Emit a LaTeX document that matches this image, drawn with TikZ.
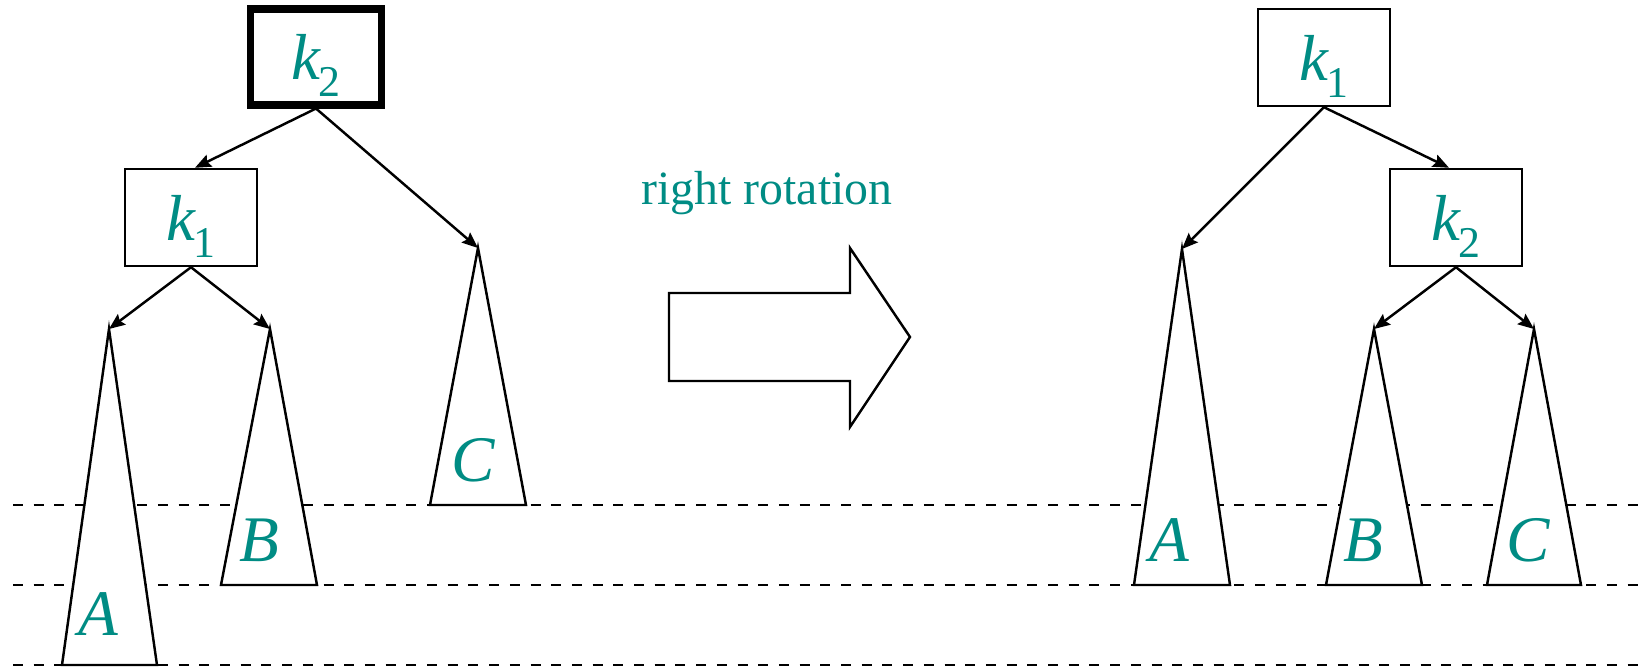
\documentclass[tikz,border=0pt]{standalone}
\usepackage{fontspec}
\setmainfont{Liberation Serif}
\usetikzlibrary{arrows.meta}
\definecolor{keyteal}{RGB}{0,140,132}
\newcommand{\kkey}[1]{\textit{k}\kern-0.2mm\raisebox{-1.7mm}[0pt][0pt]{\fontsize{12.5}{13}\selectfont #1}}

\begin{document}
\begin{tikzpicture}[x=1mm,y=1mm,>={Stealth[length=1.6mm,width=1.3mm,inset=0.25mm]},
  key/.style={draw,line width=0.7pt,minimum width=13.2mm,minimum height=9.7mm,inner sep=0pt,font=\fontsize{18.5}{20}\selectfont,text=keyteal},
  rootkey/.style={key,line width=2pt,minimum width=13.1mm,minimum height=9.6mm},
  subtree/.style={draw,line width=0.7pt,fill=white,line join=miter},
  lbl/.style={font=\fontsize{18.5}{20}\selectfont\itshape,text=keyteal,inner sep=0pt},
  hline/.style={line width=0.7pt,dash pattern=on 1.0mm off 1.07mm},
  link/.style={->,line width=0.7pt}]
\useasboundingbox (0,0) rectangle (163.9,-66.7);
% height levels
\draw[hline] (1.3,-50.5) -- (163.9,-50.5);
\draw[hline] (1.3,-58.5) -- (163.9,-58.5);
\draw[hline] (1.3,-66.5) -- (163.9,-66.5);
% (left) before the rotation
\node[rootkey] (k2L) at (31.6,-5.7) {\kkey{2}};
\node[key] (k1L) at (19.1,-21.75) {\kkey{1}};
\coordinate (aL) at (10.9,-32.9);
\coordinate (bL) at (27.0,-32.9);
\coordinate (cL) at (47.8,-24.8);
\draw[subtree] (aL) -- (15.7,-66.5) -- (6.2,-66.5) -- cycle;
\draw[subtree] (bL) -- (31.7,-58.5) -- (22.1,-58.5) -- cycle;
\draw[subtree] (cL) -- (52.6,-50.5) -- (43.0,-50.5) -- cycle;
\node[lbl] (labAL) at (9.8,-61.4) {A};
\node[lbl] (labBL) at (25.9,-54.0) {B};
\node[lbl] (labCL) at (47.3,-46.0) {C};
\draw[link] (k2L.south) -- ([xshift=0.4mm]k1L.north);
\draw[link] (k2L.south) -- (cL);
\draw[link] (k1L.south) -- (aL);
\draw[link] (k1L.south) -- (bL);
% the big arrow
\node[font=\fontsize{13.6}{15}\selectfont,text=keyteal] (rot) at (76.7,-19.3) {right rotation};
\draw[line width=0.7pt,line join=miter] (66.9,-29.3) -- (85.0,-29.3) -- (85.0,-24.8) -- (91.0,-33.7)
  -- (85.0,-42.7) -- (85.0,-38.1) -- (66.9,-38.1) -- cycle;
% (right) after the rotation
\node[key] (k1R) at (132.4,-5.75) {\kkey{1}};
\node[key] (k2R) at (145.6,-21.75) {\kkey{2}};
\coordinate (aR) at (118.2,-24.9);
\coordinate (bR) at (137.4,-32.9);
\coordinate (cR) at (153.4,-32.9);
\draw[subtree] (aR) -- (123.0,-58.5) -- (113.4,-58.5) -- cycle;
\draw[subtree] (bR) -- (142.2,-58.5) -- (132.6,-58.5) -- cycle;
\draw[subtree] (cR) -- (158.1,-58.5) -- (148.7,-58.5) -- cycle;
\node[lbl] (labAR) at (116.9,-54.0) {A};
\node[lbl] (labBR) at (136.3,-54.0) {B};
\node[lbl] (labCR) at (152.8,-54.0) {C};
\draw[link] (k1R.south) -- (aR);
\draw[link] (k1R.south) -- ([xshift=-0.7mm]k2R.north);
\draw[link] (k2R.south) -- (bR);
\draw[link] (k2R.south) -- (cR);
\end{tikzpicture}
\end{document}
